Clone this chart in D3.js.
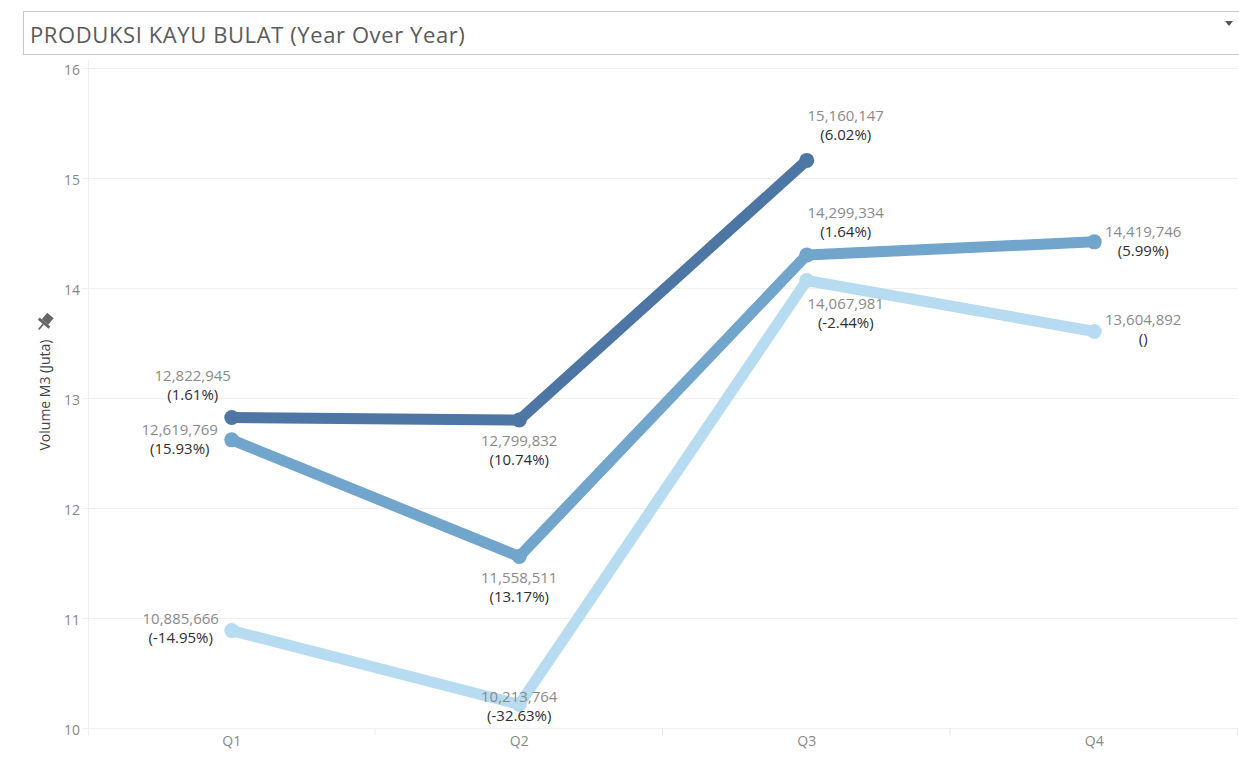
<!DOCTYPE html>
<html>
<head>
<meta charset="utf-8">
<script src="https://cdn.jsdelivr.net/npm/d3@7"></script>
<style>
  html, body { margin: 0; padding: 0; background: #fff; }
  svg { display: block; font-family: "Open Sans", sans-serif; }
</style>
</head>
<body>
<svg id="chart" width="1239" height="761"></svg>
<script>
// Quarter categories and y-axis ticks (million m3)
const quarters = ["Q1", "Q2", "Q3", "Q4"];
const yTicks = [10, 11, 12, 13, 14, 15, 16];

// Round-wood production per quarter, in m3 (one array per year, oldest first)
const lightValues = [10885666, 10213764, 14067981, 13604892];
const midValues   = [12619769, 11558511, 14299334, 14419746];
const darkValues  = [12822945, 12799832, 15160147];

// Year-over-year change shown under each value
const lightPct = ["(-14.95%)", "(-32.63%)", "(-2.44%)", "()"];
const midPct   = ["(15.93%)", "(13.17%)", "(1.64%)", "(5.99%)"];
const darkPct  = ["(1.61%)", "(10.74%)", "(6.02%)"];

// Styling and label placement (offset of label block from its point)
const seriesStyle = [
  { key: "light", values: lightValues, pct: lightPct, color: "#b7dcf1",
    offsets: [[-51, -12], [0, -7], [39, 23], [49, -11]] },
  { key: "mid", values: midValues, pct: midPct, color: "#72a5cc",
    offsets: [[-52, -10], [0, 21], [39, -42], [49, -10]] },
  { key: "dark", values: darkValues, pct: darkPct, color: "#4d76a5",
    offsets: [[-39, -41], [0, 21], [39, -44]] }
];

const svg = d3.select("#chart");

// Title bar
svg.append("rect")
  .attr("x", 23.5).attr("y", 11.5).attr("width", 1230).attr("height", 43)
  .attr("fill", "#fff").attr("stroke", "#c9c9c9");
svg.append("text")
  .attr("x", 30).attr("y", 43)
  .attr("font-size", 22).attr("letter-spacing", 0.6).attr("fill", "#5a5a5a")
  .text("PRODUKSI KAYU BULAT (Year Over Year)");
svg.append("path")
  .attr("d", "M1225,21 L1233,21 L1229,26 Z")
  .attr("fill", "#555");

// Scales
const x = d3.scaleBand().domain(quarters).range([88, 1238]).padding(0);
const y = d3.scaleLinear().domain([10, 16]).range([728, 68]);
const cx = q => x(q) + x.bandwidth() / 2;

// Horizontal gridlines
svg.append("g").selectAll("line").data(yTicks).join("line")
  .attr("x1", 82).attr("x2", 1238)
  .attr("y1", d => y(d) + 0.5).attr("y2", d => y(d) + 0.5)
  .attr("stroke", "#efefef");

// Left axis rule
svg.append("line")
  .attr("x1", 88.5).attr("x2", 88.5).attr("y1", 60).attr("y2", 736)
  .attr("stroke", "#efefef");

// Y axis labels
const yAxis = svg.append("g").attr("transform", "translate(82,0)")
  .call(d3.axisLeft(y).tickValues(yTicks).tickSize(0).tickPadding(2).tickFormat(d3.format("d")));
yAxis.select(".domain").remove();
yAxis.selectAll("text")
  .attr("font-family", "Open Sans, sans-serif")
  .attr("font-size", 14).attr("fill", "#888").attr("dy", "0.45em");

// X axis (band separators + quarter labels)
svg.append("g").selectAll("line").data(quarters).join("line")
  .attr("x1", d => x(d) + x.bandwidth() - 0.5).attr("x2", d => x(d) + x.bandwidth() - 0.5)
  .attr("y1", 728).attr("y2", 735)
  .attr("stroke", "#e8e8e8");
const xAxis = svg.append("g").attr("transform", "translate(0,728)")
  .call(d3.axisBottom(x).tickSize(0).tickPadding(8));
xAxis.select(".domain").remove();
xAxis.selectAll("text")
  .attr("font-family", "Open Sans, sans-serif")
  .attr("font-size", 14).attr("fill", "#888");

// Axis title with pin marker
svg.append("text")
  .attr("transform", "translate(50,395) rotate(-90)")
  .attr("text-anchor", "middle")
  .attr("font-size", 14).attr("fill", "#444")
  .text("Volume M3 (Juta)");
svg.append("g")
  .attr("transform", "translate(45,322) rotate(40) scale(1.4)")
  .call(g => {
    g.append("rect").attr("x", -3).attr("y", -6).attr("width", 6).attr("height", 6).attr("fill", "#666");
    g.append("rect").attr("x", -5).attr("y", 0).attr("width", 10).attr("height", 2).attr("fill", "#666");
    g.append("line").attr("x1", 0).attr("x2", 0).attr("y1", 2).attr("y2", 7).attr("stroke", "#666").attr("stroke-width", 1.2);
  });

// Lines and points
const line = d3.line().x((d, i) => cx(quarters[i])).y(d => y(d / 1e6));
const marks = svg.append("g");
seriesStyle.forEach(s => {
  marks.append("path")
    .datum(s.values)
    .attr("d", line)
    .attr("fill", "none")
    .attr("stroke", s.color)
    .attr("stroke-width", 11)
    .attr("stroke-linejoin", "round");
  marks.append("g").selectAll("circle").data(s.values).join("circle")
    .attr("cx", (d, i) => cx(quarters[i]))
    .attr("cy", d => y(d / 1e6))
    .attr("r", 7.5)
    .attr("fill", s.color);
});

// Value and YoY labels
const fmt = d3.format(",");
const labels = svg.append("g").attr("text-anchor", "middle").attr("font-size", 15);
seriesStyle.forEach(s => {
  s.values.forEach((v, i) => {
    const px = cx(quarters[i]) + s.offsets[i][0];
    const py = y(v / 1e6) + s.offsets[i][1];
    labels.append("text")
      .attr("x", px).attr("y", py + 5)
      .attr("fill", "#8a8a8a")
      .text(fmt(v));
    labels.append("text")
      .attr("x", px).attr("y", py + 24)
      .attr("fill", "#2e2e2e")
      .text(s.pct[i]);
  });
});
</script>
</body>
</html>
